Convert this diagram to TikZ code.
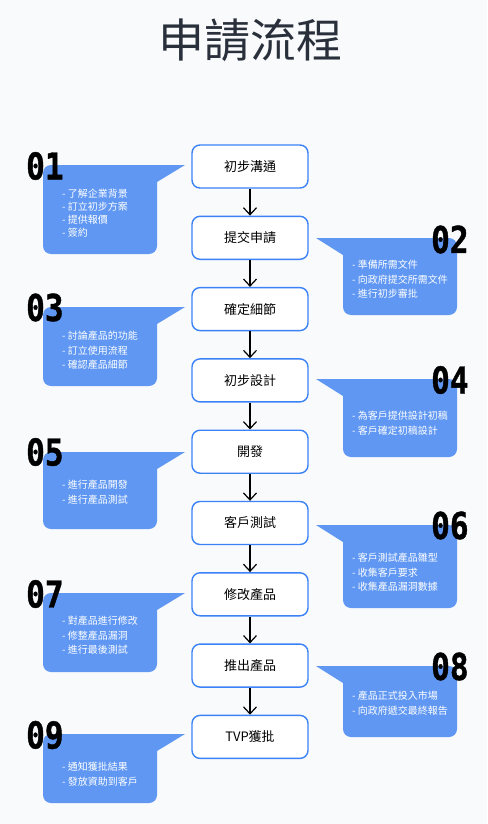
\documentclass[tikz,border=0pt]{standalone}
\usepackage{fontspec}
\usetikzlibrary{arrows.meta}
\newfontfamily\cjk{Noto Sans CJK TC}
\newfontfamily\nummono[Numbers=SlashedZero, BoldFeatures={FakeBold=1.2}]{DejaVu Sans Mono}

\definecolor{bgpage}{HTML}{F8FAFC}
\definecolor{stepline}{HTML}{3B82F6}
\definecolor{bubblecol}{HTML}{5F97F3}
\definecolor{titlegray}{HTML}{2A303B}

\tikzset{
	stepbox/.style={draw=stepline, line width=1.4pt, fill=white, rounded corners=8pt,
		minimum width=116pt, minimum height=43pt, font=\cjk\fontsize{13}{15}\selectfont},
	flow/.style={-{Straight Barb[length=7pt,width=13pt]}, line width=1.2pt},
	bubble/.style={fill=bubblecol},
	notetext/.style={text=white, font=\cjk\fontsize{10}{14.5}\selectfont, align=left,
		anchor=north west, inner sep=0pt},
	numtag/.style={font=\nummono\bfseries\fontsize{37}{37}\selectfont, inner sep=0pt, anchor=west}
}
\newcommand{\numtxt}[1]{\scalebox{0.84}[1]{#1}}

\begin{document}
\begin{tikzpicture}[x=1pt, y=-1pt]
	% Page
	\fill[bgpage] (0,0) rectangle (487,824);
	\useasboundingbox (0,0) rectangle (487,824);
	
	% Title
	\node[font=\cjk\fontsize{46}{46}\selectfont, text=titlegray] (title) at (250.5,40) {申請流程};
	
	% Steps
	\foreach \txt [count=\i] in {初步溝通, 提交申請, 確定細節, 初步設計, 開發, 客戶測試, 修改產品, 推出產品, TVP獲批}
	\node[stepbox] (s\i) at (250,{166.5+(\i-1)*71.3}) {\txt};
	
	% Arrows
	\foreach \i [evaluate=\i as \j using int(\i+1)] in {1,...,8}
	\draw[flow] (s\i) -- (s\j);
	
	% Left bubbles
	\foreach \ty/\by in {165/254, 307/386, 452/529, 593/672, 734/803} {
		\fill[bubble, rounded corners=8pt] (43,\ty) rectangle (157,\by);
		\fill[bubble] (149,\ty) -- (185,\ty) -- (157,{\ty+17}) -- (149,{\ty+17}) -- cycle;
	}
	
	% Right bubbles
	\foreach \ty/\by in {238/315, 379/457, 525/608, 666/737} {
		\fill[bubble, rounded corners=8pt] (343,\ty) rectangle (457,\by);
		\fill[bubble] (316,\ty) -- (351,\ty) -- (351,{\ty+17}) -- (343,{\ty+17}) -- cycle;
	}
	
	% Bubble texts
	\node[notetext, font=\cjk\fontsize{10}{13}\selectfont] (t1) at (62,189) {- 了解企業背景\\- 訂立初步方案\\- 提供報價\\- 簽約};
	\node[notetext] (t2) at (352,260) {- 準備所需文件\\- 向政府提交所需文件\\- 進行初步審批};
	\node[notetext] (t3) at (62,331) {- 討論產品的功能\\- 訂立使用流程\\- 確認產品細節};
	\node[notetext] (t4) at (352,411) {- 為客戶提供設計初稿\\- 客戶確定初稿設計};
	\node[notetext] (t5) at (62,480) {- 進行產品開發\\- 進行產品測試};
	\node[notetext] (t6) at (352,553) {- 客戶測試產品雛型\\- 收集客戶要求\\- 收集產品漏洞數據};
	\node[notetext] (t7) at (62,616) {- 對產品進行修改\\- 修整產品漏洞\\- 進行最後測試};
	\node[notetext] (t8) at (352,691) {- 產品正式投入市場\\- 向政府遞交最終報告};
	\node[notetext] (t9) at (62,762) {- 通知獲批結果\\- 發放資助到客戶};
	
	% Numbers
	\node[numtag] (n1) at (26,166) {\numtxt{01}};
	\node[numtag] (n2) at (431,239.5) {\numtxt{02}};
	\node[numtag] (n3) at (26,307.5) {\numtxt{03}};
	\node[numtag] (n4) at (431,380) {\numtxt{04}};
	\node[numtag] (n5) at (26,452) {\numtxt{05}};
	\node[numtag] (n6) at (431,525.5) {\numtxt{06}};
	\node[numtag] (n7) at (26,594) {\numtxt{07}};
	\node[numtag] (n8) at (431,666.5) {\numtxt{08}};
	\node[numtag] (n9) at (26,735) {\numtxt{09}};
\end{tikzpicture}
\end{document}
